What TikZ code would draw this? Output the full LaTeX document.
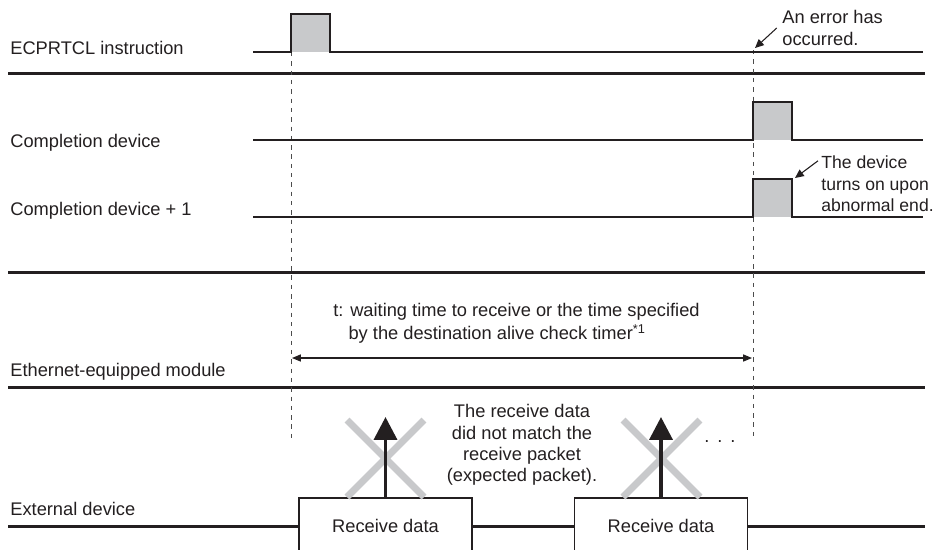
\documentclass[tikz,border=0pt]{standalone}
\usepackage{fontspec}
\setmainfont{Liberation Sans}
\usetikzlibrary{arrows.meta,positioning}
\definecolor{pulsegray}{RGB}{200,201,203}
\definecolor{inkblack}{RGB}{35,31,32}

\begin{document}
\begin{tikzpicture}[x=0.02cm, y=-0.02cm,
        every node/.style={font=\fontsize{10.4}{12.5}\selectfont, text=inkblack},
        sep/.style={line width=1.7pt, draw=inkblack},
        sig/.style={line width=0.6pt, draw=inkblack},
        guide/.style={draw=black!70, line width=0.5pt, dash pattern=on 2.5pt off 2.8pt},
        rowlabel/.style={anchor=base west, inner sep=0pt},
        note/.style={align=left, anchor=west, inner sep=0pt},
        notearrow/.style={-{Triangle[length=5pt,width=4.5pt]}, line width=0.6pt, draw=inkblack},
        crossmark/.style={line width=4pt, draw=pulsegray},
        sendarrow/.style={-{Triangle[length=13pt,width=13pt]}, line width=2.2pt, draw=inkblack},
        databox/.style={draw=inkblack, fill=white, line width=0.6pt, minimum width=3.46cm, minimum height=1.12cm}]
        \useasboundingbox (0,0) rectangle (935,549);
        \clip (0,0) rectangle (935,549);
        % row labels
        \node[rowlabel] (lblcmd) at (10,54) {ECPRTCL instruction};
        \node[rowlabel] (lblcd) at (10,147) {Completion device};
        \node[rowlabel] (lblcdone) at (10,215) {Completion device + 1};
        \node[rowlabel] (lbleth) at (10,376) {Ethernet-equipped module};
        \node[rowlabel] (lblext) at (10,515) {External device};
        % separators
        \draw[sep] (8,73) -- (925,73);
        \draw[sep] (8,272) -- (925,272);
        \draw[sep] (8,387) -- (925,387);
        % timing guides
        \draw[guide] (291,52) -- (291,440);
        \draw[guide] (753,50) -- (753,440);
        % signals
        \fill[pulsegray] (291,14) rectangle (330,52);
        \draw[sig] (253,52) -- (291,52) -- (291,14) -- (330,14) -- (330,52) -- (923,52);
        \fill[pulsegray] (753,102) rectangle (792,140);
        \draw[sig] (253,140) -- (753,140) -- (753,102) -- (792,102) -- (792,140) -- (923,140);
        \fill[pulsegray] (753,179) rectangle (792,217);
        \draw[sig] (253,217) -- (753,217) -- (753,179) -- (792,179) -- (792,217) -- (923,217);
        % notes
        \node[note, font=\fontsize{10.4}{13}\selectfont] (errnote) at (782,28) {An error has\\occurred.};
        \coordinate (errpt) at (755,48);
        \draw[notearrow] ([xshift=-3pt]errnote.west) -- (errpt);
        \node[note, font=\fontsize{10}{12.2}\selectfont] (devnote) at (821,184) {The device\\turns on upon\\abnormal end.};
        \coordinate (devpt) at (795,178);
        \draw[notearrow] ([shift={(-3,5)}]devnote.north west) -- (devpt);
        \node[align=left, anchor=north west, inner sep=0pt, font=\fontsize{10.4}{13.5}\selectfont] (tnote) at (333,302.5)
            {t: waiting time to receive or the time specified\\\hphantom{t:\ }by the destination alive check timer\textsuperscript{*1}};
        \coordinate (tstart) at (292,358);
        \coordinate (tend) at (752,358);
        \draw[{Triangle[length=5pt,width=4pt]}-{Triangle[length=5pt,width=4pt]}, line width=0.6pt, draw=inkblack] (tstart) -- (tend);
        % external device frames
        \node[databox] (rdata1) at (385.5,526) {Receive data};
        \node[databox] (rdata2) at (661,526) {Receive data};
        \draw[sep] (8,526) -- (rdata1.west);
        \draw[sep] (rdata1.east) -- (rdata2.west);
        \draw[sep] (rdata2.east) -- (925,526);
        \draw[crossmark] (347,420) -- (424,497) (424,420) -- (347,497);
        \draw[crossmark] (623,420) -- (700,497) (700,420) -- (623,497);
        \coordinate (rxone) at (385.5,417);
        \coordinate (rxtwo) at (661,417);
        \draw[sendarrow] (rdata1.north) -- (rxone);
        \draw[sendarrow] (rdata2.north) -- (rxtwo);
        \node[align=center, inner sep=0pt, font=\fontsize{10.4}{12.1}\selectfont] (mismatch) at (522,445)
            {The receive data\\did not match the\\receive packet\\(expected packet).};
        \node[anchor=base, inner sep=0pt] (more) at (720,442) {.\hspace{4.5pt}.\hspace{4.5pt}.};
    \end{tikzpicture}
\end{document}
